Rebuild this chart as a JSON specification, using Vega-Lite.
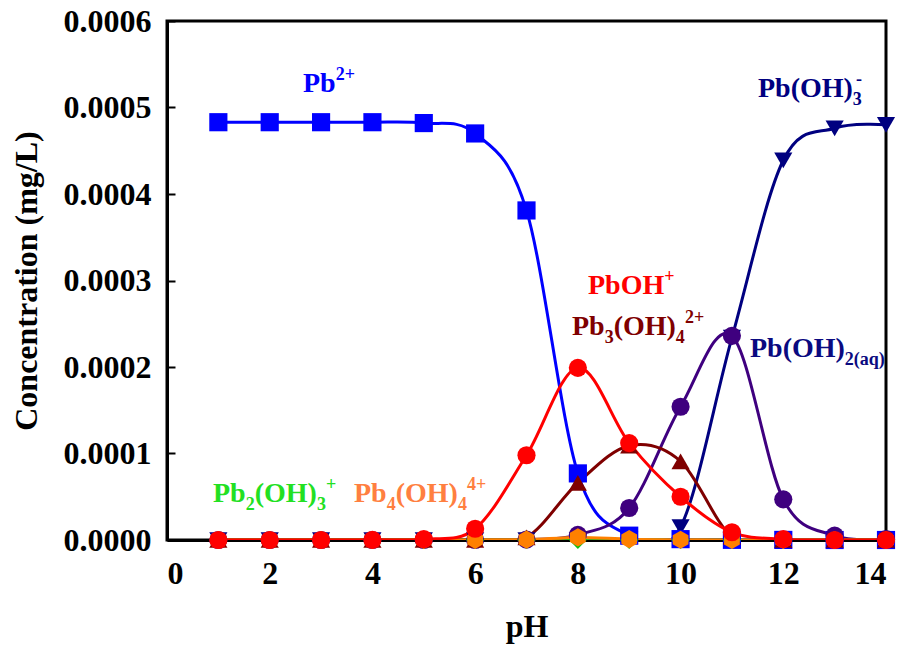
{
  "$schema": "https://vega.github.io/schema/vega-lite/v6.json",
  "width": 719,
  "height": 519,
  "autosize": {"type": "none"},
  "padding": {"left": 167, "top": 21, "right": 21, "bottom": 111},
  "background": "white",
  "config": {
    "view": {"stroke": "black", "strokeWidth": 3},
    "font": "Liberation Serif",
    "axis": {
      "labelFont": "Liberation Serif", "labelFontWeight": "bold", "labelColor": "black",
      "titleFont": "Liberation Serif", "titleFontWeight": "bold", "titleColor": "black",
      "domainColor": "black", "domainWidth": 3, "tickColor": "black", "tickWidth": 2,
      "grid": false
    }
  },
  "datasets": {
    "conc": [
      {"pH":1,"sp":"PbOH3","c":0},{"pH":2,"sp":"PbOH3","c":0},{"pH":3,"sp":"PbOH3","c":0},{"pH":4,"sp":"PbOH3","c":0},{"pH":5,"sp":"PbOH3","c":0},{"pH":6,"sp":"PbOH3","c":0},{"pH":7,"sp":"PbOH3","c":0},{"pH":8,"sp":"PbOH3","c":0},{"pH":9,"sp":"PbOH3","c":0.0000003},{"pH":10,"sp":"PbOH3","c":0.000015},{"pH":11,"sp":"PbOH3","c":0.000234},{"pH":12,"sp":"PbOH3","c":0.000439},{"pH":13,"sp":"PbOH3","c":0.000476},{"pH":14,"sp":"PbOH3","c":0.00048},
      {"pH":1,"sp":"Pb2","c":0.000483},{"pH":2,"sp":"Pb2","c":0.000483},{"pH":3,"sp":"Pb2","c":0.000483},{"pH":4,"sp":"Pb2","c":0.000483},{"pH":5,"sp":"Pb2","c":0.000482},{"pH":6,"sp":"Pb2","c":0.00047},{"pH":7,"sp":"Pb2","c":0.000381},{"pH":8,"sp":"Pb2","c":0.000077},{"pH":9,"sp":"Pb2","c":0.000005},{"pH":10,"sp":"Pb2","c":0.000001},{"pH":11,"sp":"Pb2","c":0.0000002},{"pH":12,"sp":"Pb2","c":0.0000001},{"pH":13,"sp":"Pb2","c":0},{"pH":14,"sp":"Pb2","c":0},
      {"pH":1,"sp":"PbOH2","c":0},{"pH":2,"sp":"PbOH2","c":0},{"pH":3,"sp":"PbOH2","c":0},{"pH":4,"sp":"PbOH2","c":0},{"pH":5,"sp":"PbOH2","c":0},{"pH":6,"sp":"PbOH2","c":0},{"pH":7,"sp":"PbOH2","c":0.0000005},{"pH":8,"sp":"PbOH2","c":0.000006},{"pH":9,"sp":"PbOH2","c":0.000037},{"pH":10,"sp":"PbOH2","c":0.000154},{"pH":11,"sp":"PbOH2","c":0.000236},{"pH":12,"sp":"PbOH2","c":0.000047},{"pH":13,"sp":"PbOH2","c":0.000005},{"pH":14,"sp":"PbOH2","c":0.000001},
      {"pH":1,"sp":"Pb3OH4","c":0},{"pH":2,"sp":"Pb3OH4","c":0},{"pH":3,"sp":"Pb3OH4","c":0},{"pH":4,"sp":"Pb3OH4","c":0},{"pH":5,"sp":"Pb3OH4","c":0},{"pH":6,"sp":"Pb3OH4","c":0},{"pH":7,"sp":"Pb3OH4","c":0.000003},{"pH":8,"sp":"Pb3OH4","c":0.000066},{"pH":9,"sp":"Pb3OH4","c":0.000109},{"pH":10,"sp":"Pb3OH4","c":0.000091},{"pH":11,"sp":"Pb3OH4","c":0.000004},{"pH":12,"sp":"Pb3OH4","c":0},{"pH":13,"sp":"Pb3OH4","c":0},{"pH":14,"sp":"Pb3OH4","c":0},
      {"pH":1,"sp":"Pb2OH3","c":0},{"pH":2,"sp":"Pb2OH3","c":0},{"pH":3,"sp":"Pb2OH3","c":0},{"pH":4,"sp":"Pb2OH3","c":0},{"pH":5,"sp":"Pb2OH3","c":0},{"pH":6,"sp":"Pb2OH3","c":0},{"pH":7,"sp":"Pb2OH3","c":0.0000001},{"pH":8,"sp":"Pb2OH3","c":0.0000002},{"pH":9,"sp":"Pb2OH3","c":0.0000001},{"pH":10,"sp":"Pb2OH3","c":0},{"pH":11,"sp":"Pb2OH3","c":0},{"pH":12,"sp":"Pb2OH3","c":0},{"pH":13,"sp":"Pb2OH3","c":0},{"pH":14,"sp":"Pb2OH3","c":0},
      {"pH":1,"sp":"Pb4OH4","c":0},{"pH":2,"sp":"Pb4OH4","c":0},{"pH":3,"sp":"Pb4OH4","c":0},{"pH":4,"sp":"Pb4OH4","c":0},{"pH":5,"sp":"Pb4OH4","c":0},{"pH":6,"sp":"Pb4OH4","c":0.0000002},{"pH":7,"sp":"Pb4OH4","c":0.0000004},{"pH":8,"sp":"Pb4OH4","c":0.000003},{"pH":9,"sp":"Pb4OH4","c":0.000001},{"pH":10,"sp":"Pb4OH4","c":0.0000003},{"pH":11,"sp":"Pb4OH4","c":0},{"pH":12,"sp":"Pb4OH4","c":0},{"pH":13,"sp":"Pb4OH4","c":0},{"pH":14,"sp":"Pb4OH4","c":0},
      {"pH":1,"sp":"PbOH","c":0},{"pH":2,"sp":"PbOH","c":0},{"pH":3,"sp":"PbOH","c":0},{"pH":4,"sp":"PbOH","c":0.0000002},{"pH":5,"sp":"PbOH","c":0.000001},{"pH":6,"sp":"PbOH","c":0.000013},{"pH":7,"sp":"PbOH","c":0.000098},{"pH":8,"sp":"PbOH","c":0.000199},{"pH":9,"sp":"PbOH","c":0.000112},{"pH":10,"sp":"PbOH","c":0.00005},{"pH":11,"sp":"PbOH","c":0.000009},{"pH":12,"sp":"PbOH","c":0.000001},{"pH":13,"sp":"PbOH","c":0},{"pH":14,"sp":"PbOH","c":0}
    ],
    "labels": [
      {"sp":"Pb2","kind":"main","x":2.648,"y":0.000518,"t":"Pb"},
      {"sp":"Pb2","kind":"sup","x":3.285,"y":0.000518,"t":"2+"},
      {"sp":"PbOH","kind":"main","x":8.197,"y":0.000284,"t":"PbOH"},
      {"sp":"PbOH","kind":"sup","x":9.681,"y":0.000284,"t":"+"},
      {"sp":"Pb3OH4","kind":"main","x":7.886,"y":0.000237,"t":"Pb"},
      {"sp":"Pb3OH4","kind":"sub","x":8.522,"y":0.000237,"t":"3"},
      {"sp":"Pb3OH4","kind":"main","x":8.697,"y":0.000237,"t":"(OH)"},
      {"sp":"Pb3OH4","kind":"sub","x":9.908,"y":0.000237,"t":"4"},
      {"sp":"Pb3OH4","kind":"sup","x":10.084,"y":0.000237,"t":"2+"},
      {"sp":"PbOH3","kind":"main","x":11.507,"y":0.000512,"t":"Pb(OH)"},
      {"sp":"PbOH3","kind":"sub","x":13.355,"y":0.000512,"t":"3"},
      {"sp":"PbOH3","kind":"sup","x":13.415,"y":0.000512,"t":"-"},
      {"sp":"PbOH2","kind":"main","x":11.351,"y":0.0002116,"t":"Pb(OH)"},
      {"sp":"PbOH2","kind":"sub","x":13.199,"y":0.0002116,"t":"2(aq)"},
      {"sp":"Pb2OH3","kind":"main","x":0.896,"y":0.0000439,"t":"Pb"},
      {"sp":"Pb2OH3","kind":"sub","x":1.532,"y":0.0000439,"t":"2"},
      {"sp":"Pb2OH3","kind":"main","x":1.708,"y":0.0000439,"t":"(OH)"},
      {"sp":"Pb2OH3","kind":"sub","x":2.919,"y":0.0000439,"t":"3"},
      {"sp":"Pb2OH3","kind":"sup","x":3.094,"y":0.0000439,"t":"+"},
      {"sp":"Pb4OH4","kind":"main","x":3.641,"y":0.0000439,"t":"Pb"},
      {"sp":"Pb4OH4","kind":"sub","x":4.278,"y":0.0000439,"t":"4"},
      {"sp":"Pb4OH4","kind":"main","x":4.453,"y":0.0000439,"t":"(OH)"},
      {"sp":"Pb4OH4","kind":"sub","x":5.664,"y":0.0000439,"t":"4"},
      {"sp":"Pb4OH4","kind":"sup","x":5.84,"y":0.0000439,"t":"4+"}
    ]
  },
  "resolve": {"scale": {"color": "independent", "shape": "independent"}},
  "layer": [
    {
      "data": {"name": "conc"},
      "mark": {"type": "line", "interpolate": "cardinal", "strokeWidth": 3, "clip": true},
      "encoding": {
        "x": {"field": "pH", "type": "quantitative", "scale": {"domain": [0, 14], "nice": false},
          "axis": {"values": [0,2,4,6,8,10,12,14], "labelFontSize": 32, "tickSize": -8, "labelPadding": 26, "title": "pH", "titleFontSize": 32, "titlePadding": 22}},
        "y": {"field": "c", "type": "quantitative", "scale": {"domain": [0, 0.0006], "nice": false},
          "axis": {"values": [0,0.0001,0.0002,0.0003,0.0004,0.0005,0.0006], "format": ".4f", "labelFontSize": 32, "tickSize": -8, "labelPadding": 24, "title": "Concentration (mg/L)", "titleFontSize": 32, "titlePadding": 20}},
        "color": {"field": "sp", "type": "nominal", "legend": null,
          "scale": {"domain": ["PbOH3","Pb2","PbOH2","Pb3OH4","Pb2OH3","Pb4OH4","PbOH"],
                    "range": ["#000080","#0000FF","#3F007F","#7F0000","#1DB01D","#FF8000","#FF0000"]}}
      }
    },
    {
      "data": {"name": "conc"},
      "mark": {"type": "point", "filled": true, "opacity": 1, "size": 330, "clip": false},
      "encoding": {
        "x": {"field": "pH", "type": "quantitative"},
        "y": {"field": "c", "type": "quantitative"},
        "color": {"field": "sp", "type": "nominal", "legend": null,
          "scale": {"domain": ["PbOH3","Pb2","PbOH2","Pb3OH4","Pb2OH3","Pb4OH4","PbOH"],
                    "range": ["#000080","#0000FF","#3F007F","#7F0000","#10C010","#FF8000","#FF0000"]}},
        "shape": {"field": "sp", "type": "nominal", "legend": null,
          "scale": {"domain": ["PbOH3","Pb2","PbOH2","Pb3OH4","Pb2OH3","Pb4OH4","PbOH"],
                    "range": ["triangle-down","square","circle","triangle-up","diamond","M0,-1L0.866,-0.5L0.866,0.5L0,1L-0.866,0.5L-0.866,-0.5Z","circle"]}}
      }
    },
    {
      "data": {"name": "labels"},
      "transform": [{"filter": "datum.kind === 'main'"}],
      "mark": {"type": "text", "align": "left", "baseline": "alphabetic", "font": "Liberation Serif", "fontWeight": "bold", "fontSize": 28},
      "encoding": {
        "x": {"field": "x", "type": "quantitative"},
        "y": {"field": "y", "type": "quantitative"},
        "text": {"field": "t"},
        "color": {"field": "sp", "type": "nominal", "legend": null,
          "scale": {"domain": ["PbOH3","Pb2","PbOH2","Pb3OH4","Pb2OH3","Pb4OH4","PbOH"],
                    "range": ["#000080","#0000FF","#0A0A80","#7F0000","#22E022","#FF7F40","#FF0000"]}}
      }
    },
    {
      "data": {"name": "labels"},
      "transform": [{"filter": "datum.kind === 'sub'"}],
      "mark": {"type": "text", "align": "left", "baseline": "alphabetic", "font": "Liberation Serif", "fontWeight": "bold", "fontSize": 18, "dy": 8},
      "encoding": {
        "x": {"field": "x", "type": "quantitative"},
        "y": {"field": "y", "type": "quantitative"},
        "text": {"field": "t"},
        "color": {"field": "sp", "type": "nominal", "legend": null,
          "scale": {"domain": ["PbOH3","Pb2","PbOH2","Pb3OH4","Pb2OH3","Pb4OH4","PbOH"],
                    "range": ["#000080","#0000FF","#0A0A80","#7F0000","#22E022","#FF7F40","#FF0000"]}}
      }
    },
    {
      "data": {"name": "labels"},
      "transform": [{"filter": "datum.kind === 'sup'"}],
      "mark": {"type": "text", "align": "left", "baseline": "alphabetic", "font": "Liberation Serif", "fontWeight": "bold", "fontSize": 18, "dy": -12},
      "encoding": {
        "x": {"field": "x", "type": "quantitative"},
        "y": {"field": "y", "type": "quantitative"},
        "text": {"field": "t"},
        "color": {"field": "sp", "type": "nominal", "legend": null,
          "scale": {"domain": ["PbOH3","Pb2","PbOH2","Pb3OH4","Pb2OH3","Pb4OH4","PbOH"],
                    "range": ["#000080","#0000FF","#0A0A80","#7F0000","#22E022","#FF7F40","#FF0000"]}}
      }
    }
  ]
}
